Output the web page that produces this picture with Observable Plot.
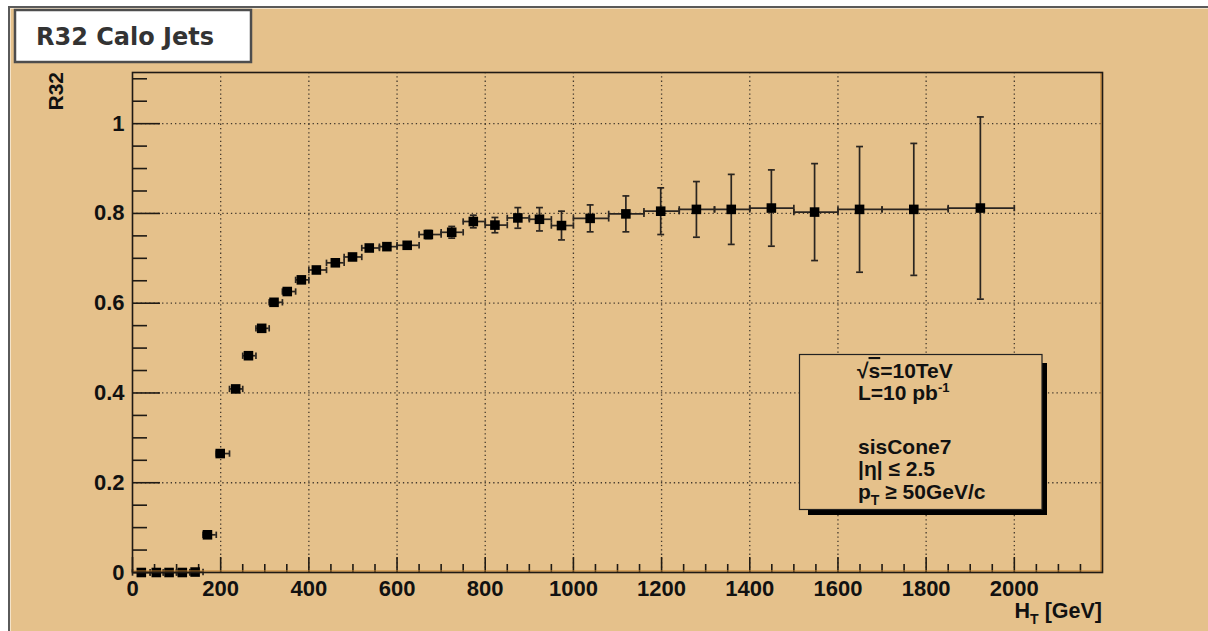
<!DOCTYPE html>
<html>
<head>
<meta charset="utf-8">
<script src="https://cdn.jsdelivr.net/npm/d3@7"></script>
<script src="https://cdn.jsdelivr.net/npm/@observablehq/plot@0.6"></script>
<style>
  html, body { margin: 0; padding: 0; background: #ffffff; }
  #wrap { position: relative; width: 1208px; height: 631px; overflow: hidden; }
  #canvas { position: absolute; left: 8px; top: 6px; right: 0; bottom: 0;
            background: #e5c18b; border-top: 2.5px solid #5a5a5a; border-left: 2.5px solid #5a5a5a;
            box-shadow: inset 1px 1px 0 #f4e3c8; }
  #chart { position: absolute; left: 0; top: 0; }
  #overlay { position: absolute; left: 0; top: 0; pointer-events: none; }
</style>
</head>
<body>
<div id="wrap">
  <div id="canvas"></div>
  <div id="chart"></div>
  <svg id="overlay" width="1208" height="631" xmlns="http://www.w3.org/2000/svg">
    <rect x="15" y="10" width="236" height="52" fill="#ffffff" stroke="#4d4d4d" stroke-width="2.5"/>
    <text x="36" y="45" font-family="'DejaVu Sans', Verdana, sans-serif" font-weight="bold" font-size="24" fill="#333333">R32 Calo Jets</text>

    <text transform="translate(62.5,72) rotate(-90)" text-anchor="end" font-family="'Liberation Sans', Arial, sans-serif" font-weight="bold" font-size="21" fill="#111">R32</text>
    <text x="1102" y="618" text-anchor="end" font-family="'Liberation Sans', Arial, sans-serif" font-weight="bold" font-size="21.5" fill="#111">H<tspan dy="6" font-size="14">T</tspan><tspan dy="-6"> [GeV]</tspan></text>

    <rect x="808" y="363" width="239" height="152" fill="#000000"/>
    <rect x="799.5" y="354.5" width="242.5" height="155" fill="#e5c18b" stroke="#222" stroke-width="1.2"/>
    <g font-family="'Liberation Sans', Arial, sans-serif" font-weight="bold" font-size="21" fill="#111">
      <text x="857" y="378">√<tspan text-decoration="overline">s</tspan>=10TeV</text>
      <text x="858" y="400">L=10 pb<tspan dy="-8" font-size="13">-1</tspan></text>
      <text x="858" y="454">sisCone7</text>
      <text x="858" y="476">|η| ≤ 2.5</text>
      <text x="858" y="499">p<tspan dy="6" font-size="14">T</tspan><tspan dy="-6"> ≥ 50GeV/c</tspan></text>
    </g>
  </svg>
</div>
<script>
// ---- data ----
const htCenter = [20, 54, 83, 113, 142, 170, 199, 234, 263, 293, 321, 351, 383, 417, 460, 499, 537, 577, 623, 671, 724, 773, 822, 874, 923, 973, 1038, 1119, 1198, 1279, 1358, 1449, 1547, 1649, 1772, 1923];
const binLow   = [0, 40, 70, 100, 130, 160, 190, 220, 250, 280, 310, 340, 370, 400, 440, 480, 520, 560, 600, 650, 700, 750, 800, 850, 900, 950, 1000, 1080, 1160, 1240, 1320, 1400, 1500, 1600, 1700, 1850];
const binHigh  = [40, 70, 100, 130, 160, 190, 220, 250, 280, 310, 340, 370, 400, 440, 480, 520, 560, 600, 650, 700, 750, 800, 850, 900, 950, 1000, 1080, 1160, 1240, 1320, 1400, 1500, 1600, 1700, 1850, 2000];
const r32      = [0, 0, 0, 0, 0.001, 0.084, 0.265, 0.409, 0.483, 0.544, 0.602, 0.626, 0.652, 0.674, 0.690, 0.703, 0.723, 0.726, 0.729, 0.753, 0.758, 0.782, 0.774, 0.790, 0.787, 0.773, 0.789, 0.799, 0.805, 0.809, 0.809, 0.812, 0.803, 0.809, 0.809, 0.812];
const r32Err   = [0.002, 0.002, 0.002, 0.002, 0.002, 0.003, 0.004, 0.004, 0.004, 0.004, 0.004, 0.005, 0.005, 0.005, 0.006, 0.006, 0.007, 0.007, 0.007, 0.009, 0.013, 0.014, 0.017, 0.023, 0.026, 0.032, 0.030, 0.040, 0.052, 0.062, 0.078, 0.085, 0.108, 0.140, 0.147, 0.203];
const xTicks = [0, 200, 400, 600, 800, 1000, 1200, 1400, 1600, 1800, 2000];
const yTicks = [0, 0.2, 0.4, 0.6, 0.8, 1];
const yTickLabels = ["0", "0.2", "0.4", "0.6", "0.8", "1"];

const data = htCenter.map((x, i) => ({x, lo: binLow[i], hi: binHigh[i], y: r32[i], e: r32Err[i]}));

const W = 1208, H = 631;
const mL = 132, mR = 106, mT = 72, mB = 59;
const innerW = W - mL - mR, innerH = H - mT - mB;

const xMinor = d3.range(0, 2200, 50).filter(v => v % 200 !== 0);
const yMinor = d3.range(0.05, 1.11, 0.05).filter(v => Math.abs(v * 5 - Math.round(v * 5)) > 1e-6);

const hcap = {draw(ctx, size) { const w = Math.sqrt(size); ctx.moveTo(-w / 2, 0); ctx.lineTo(w / 2, 0); }};
const vcap = {draw(ctx, size) { const w = Math.sqrt(size); ctx.moveTo(0, -w / 2); ctx.lineTo(0, w / 2); }};

const ink = "#1f1a14";
const errInk = "#2a2520";
const gridStyle = {stroke: "#3a3228", strokeWidth: 1.3, strokeDasharray: "1.3 3", strokeOpacity: 0.95};

const withErr = data.filter(d => d.e >= 0.009);

const chart = Plot.plot({
  width: W, height: H,
  marginLeft: mL, marginRight: mR, marginTop: mT, marginBottom: mB,
  x: {domain: [0, 2200]},
  y: {domain: [0, 1.114]},
  style: {background: "transparent", fontFamily: "'Liberation Sans', Arial, sans-serif", fontWeight: "bold", color: "#111"},
  marks: [
    Plot.ruleX(xTicks.slice(1), gridStyle),
    Plot.ruleY(yTicks.slice(1), gridStyle),
    // ticks (inside the frame)
    Plot.tickY(yTicks, {stroke: ink, strokeWidth: 1.6, insetRight: innerW - 28}),
    Plot.tickY(yMinor, {stroke: ink, strokeWidth: 1.6, insetRight: innerW - 15}),
    Plot.tickX(xTicks, {stroke: ink, strokeWidth: 1.6, insetTop: innerH - 15}),
    Plot.tickX(xMinor, {stroke: ink, strokeWidth: 1.6, insetTop: innerH - 8}),
    // axis tick labels
    Plot.axisX({ticks: xTicks, tickSize: 0, tickPadding: 8, fontSize: 22, label: null, tickFormat: d => String(d)}),
    Plot.axisY({ticks: yTicks, tickSize: 0, tickPadding: 8, fontSize: 22, label: null, tickFormat: d => yTickLabels[yTicks.indexOf(d)]}),
    // error bars
    Plot.ruleY(data, {y: "y", x1: "lo", x2: "hi", stroke: errInk, strokeWidth: 1.7}),
    Plot.dot(data, {x: "lo", y: "y", symbol: vcap, r: 3.6, stroke: errInk, strokeWidth: 1.7}),
    Plot.dot(data, {x: "hi", y: "y", symbol: vcap, r: 3.6, stroke: errInk, strokeWidth: 1.7}),
    Plot.ruleX(withErr, {x: "x", y1: d => d.y - d.e, y2: d => d.y + d.e, stroke: errInk, strokeWidth: 1.7}),
    Plot.dot(withErr, {x: "x", y: d => d.y - d.e, symbol: hcap, r: 3.9, stroke: errInk, strokeWidth: 1.7}),
    Plot.dot(withErr, {x: "x", y: d => d.y + d.e, symbol: hcap, r: 3.9, stroke: errInk, strokeWidth: 1.7}),
    // markers
    Plot.dot(data, {x: "x", y: "y", symbol: "square", r: 5.4, fill: "#000", stroke: "none"}),
    // orange shading line along the bottom axis and the frame
    Plot.ruleY([0], {stroke: "#c07e2a", strokeWidth: 1.2, dy: -1.5}),
    Plot.ruleX([2200], {stroke: "#c07e2a", strokeWidth: 1.2, dx: -1.5}),
    Plot.frame({stroke: ink, strokeWidth: 1.6})
  ]
});
document.getElementById("chart").appendChild(chart);
</script>
</body>
</html>
